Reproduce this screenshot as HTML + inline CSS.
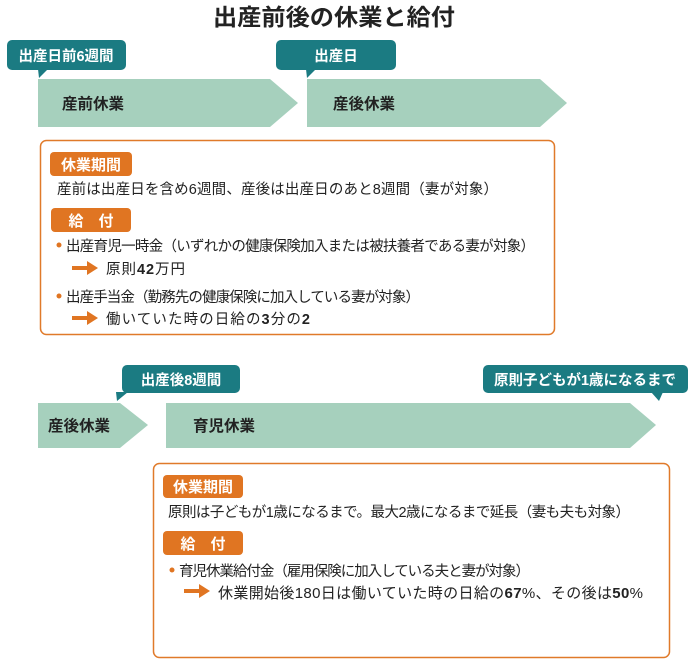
<!DOCTYPE html>
<html><head><meta charset="utf-8"><style>
html,body{margin:0;padding:0;background:#fff;}
svg{display:block;font-family:"Liberation Sans","Noto Sans CJK JP",sans-serif;}
</style></head><body>
<svg width="696" height="667" viewBox="0 0 696 667" xmlns="http://www.w3.org/2000/svg">
<text x="213" y="25" font-size="23" font-weight="bold" fill="#222" textLength="242" lengthAdjust="spacingAndGlyphs">出産前後の休業と給付</text>

<!-- top tags -->
<rect x="7" y="40" width="119" height="30" rx="5" fill="#1b7b82"/>
<polygon points="38,69 48,69 39,78" fill="#1b7b82"/>
<text x="66" y="61" font-size="14.5" font-weight="bold" fill="#fff" text-anchor="middle">出産日前6週間</text>
<rect x="276" y="40" width="120" height="30" rx="5" fill="#1b7b82"/>
<polygon points="306,69 316,69 307,78" fill="#1b7b82"/>
<text x="336" y="61" font-size="14.5" font-weight="bold" fill="#fff" text-anchor="middle">出産日</text>

<!-- top arrows -->
<polygon points="38,79 270,79 298,103 270,127 38,127" fill="#a6d0bd"/>
<polygon points="307,79 540,79 567,103 540,127 307,127" fill="#a6d0bd"/>
<text x="62" y="109" font-size="15.5" font-weight="bold" fill="#222">産前休業</text>
<text x="333" y="109" font-size="15.5" font-weight="bold" fill="#222">産後休業</text>

<!-- box1 -->
<rect x="40.5" y="140.5" width="514" height="194" rx="6" fill="#fff" stroke="#e07a2a" stroke-width="1.5"/>
<rect x="50" y="152" width="82" height="24" rx="4" fill="#e07522"/>
<text x="91" y="170" font-size="15" font-weight="bold" fill="#fff" text-anchor="middle">休業期間</text>
<text x="57" y="194" font-size="14.5" fill="#222" textLength="441">産前は出産日を含め6週間、産後は出産日のあと8週間（妻が対象）</text>
<rect x="51" y="208" width="80" height="24" rx="4" fill="#e07522"/>
<text x="91" y="226" font-size="15" font-weight="bold" fill="#fff" text-anchor="middle">給　付</text>
<circle cx="59" cy="245" r="2.5" fill="#e07522"/>
<text x="66" y="251" font-size="14.5" fill="#222" textLength="469">出産育児一時金（いずれかの健康保険加入または被扶養者である妻が対象）</text>
<rect x="72" y="266" width="16" height="4" fill="#e07522"/><polygon points="87,261 98,268 87,275" fill="#e07522"/>
<text x="106" y="274" font-size="14.5" fill="#222" textLength="79">原則<tspan font-weight="bold">42</tspan>万円</text>
<circle cx="59" cy="296" r="2.5" fill="#e07522"/>
<text x="66" y="302" font-size="14.5" fill="#222" textLength="354">出産手当金（勤務先の健康保険に加入している妻が対象）</text>
<rect x="72" y="316" width="16" height="4" fill="#e07522"/><polygon points="87,311 98,318 87,325" fill="#e07522"/>
<text x="106" y="324" font-size="14.5" fill="#222" textLength="204">働いていた時の日給の<tspan font-weight="bold">3</tspan>分の<tspan font-weight="bold">2</tspan></text>

<!-- lower tags -->
<rect x="122" y="365" width="118" height="28" rx="5" fill="#1b7b82"/>
<polygon points="116,392 128,392 117,401" fill="#1b7b82"/>
<text x="181" y="385" font-size="14.5" font-weight="bold" fill="#fff" text-anchor="middle">出産後8週間</text>
<rect x="483" y="365" width="205" height="28" rx="5" fill="#1b7b82"/>
<polygon points="651,392 663,392 659,401" fill="#1b7b82"/>
<text x="585" y="385" font-size="14.5" font-weight="bold" fill="#fff" text-anchor="middle">原則子どもが1歳になるまで</text>

<!-- lower arrows -->
<polygon points="38,403 120,403 148,425 120,448 38,448" fill="#a6d0bd"/>
<polygon points="166,403 630,403 656,425 630,448 166,448" fill="#a6d0bd"/>
<text x="48" y="431" font-size="15.5" font-weight="bold" fill="#222">産後休業</text>
<text x="193" y="431" font-size="15.5" font-weight="bold" fill="#222">育児休業</text>

<!-- box2 -->
<rect x="153.5" y="463.5" width="516" height="194" rx="6" fill="#fff" stroke="#e07a2a" stroke-width="1.5"/>
<rect x="163" y="475" width="80" height="23" rx="4" fill="#e07522"/>
<text x="203" y="492" font-size="15" font-weight="bold" fill="#fff" text-anchor="middle">休業期間</text>
<text x="168" y="517" font-size="14.5" fill="#222" textLength="462">原則は子どもが1歳になるまで。最大2歳になるまで延長（妻も夫も対象）</text>
<rect x="163" y="531" width="80" height="24" rx="4" fill="#e07522"/>
<text x="203" y="549" font-size="15" font-weight="bold" fill="#fff" text-anchor="middle">給　付</text>
<circle cx="172" cy="570" r="2.5" fill="#e07522"/>
<text x="179" y="576" font-size="14.5" fill="#222" textLength="351">育児休業給付金（雇用保険に加入している夫と妻が対象）</text>
<rect x="184" y="589" width="16" height="4" fill="#e07522"/><polygon points="199,584 210,591 199,598" fill="#e07522"/>
<text x="218" y="598" font-size="15" fill="#222" textLength="425">休業開始後180日は働いていた時の日給の<tspan font-weight="bold">67</tspan>%、その後は<tspan font-weight="bold">50</tspan>%</text>
</svg>
</body></html>
